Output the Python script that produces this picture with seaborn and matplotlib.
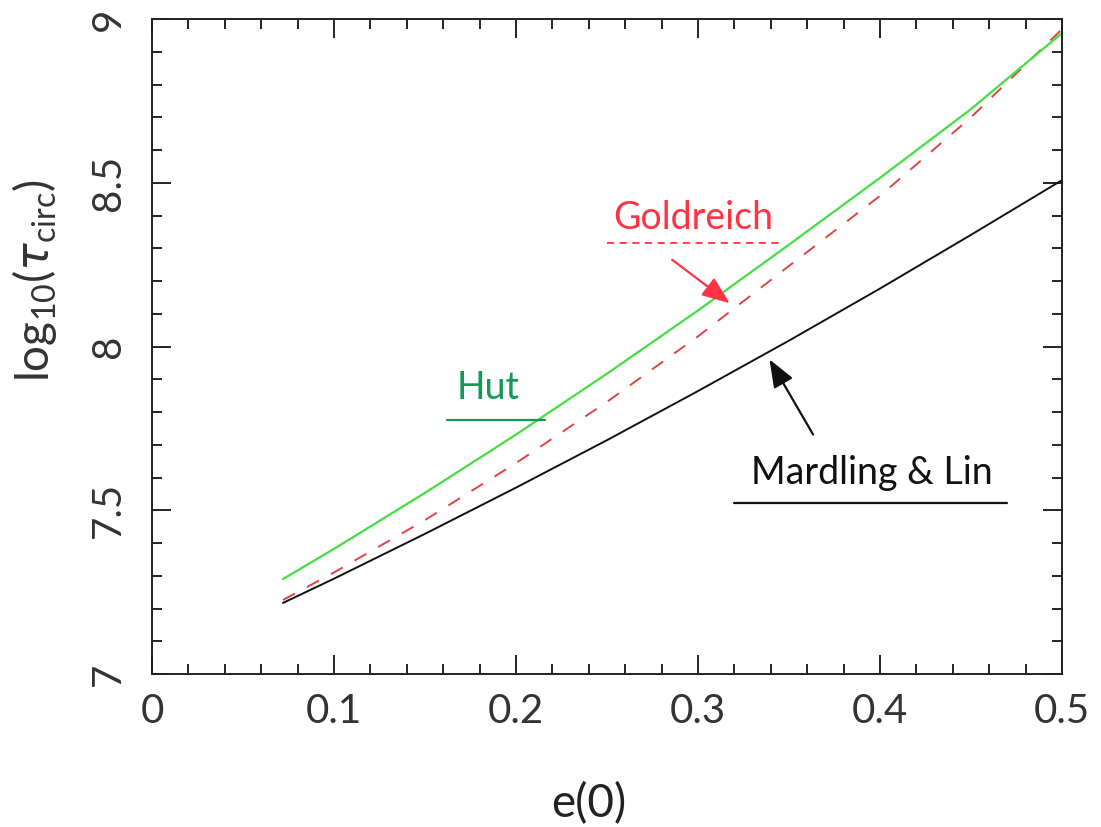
import numpy as np
import pandas as pd
import matplotlib
matplotlib.use("Agg")
import matplotlib.pyplot as plt
import seaborn as sns
from matplotlib.ticker import MultipleLocator

# values
ecc = [0.072, 0.10, 0.15, 0.20, 0.25, 0.30, 0.35, 0.40, 0.45, 0.50]
hut = [7.290, 7.382, 7.553, 7.731, 7.917, 8.110, 8.311, 8.515, 8.725, 8.957]
goldreich = [7.226, 7.310, 7.470, 7.644, 7.831, 8.031, 8.246, 8.460, 8.700, 8.969]
mardling_lin = [7.217, 7.291, 7.428, 7.569, 7.714, 7.864, 8.018, 8.177, 8.341, 8.508]

sns.set_style("ticks")
plt.rcParams['font.family'] = ['Lato', 'DejaVu Sans']
plt.rcParams['mathtext.fontset'] = 'dejavusans'

fig = plt.figure(figsize=(11.01, 8.27), dpi=100)
ax = fig.add_axes([0.138, 0.185, 0.8266, 0.792])

df = pd.DataFrame({'e': ecc, 'hut': hut, 'gold': goldreich, 'ml': mardling_lin})
sns.lineplot(data=df, x='e', y='ml', color='#111111', lw=1.4, ax=ax)
sns.lineplot(data=df, x='e', y='gold', color='#dd4444', lw=1.4, ax=ax,
             linestyle=(0, (7, 7)))
sns.lineplot(data=df, x='e', y='hut', color='#44dd44', lw=1.6, ax=ax)

ax.set_xlim(0, 0.5)
ax.set_ylim(7, 9)
ax.xaxis.set_major_locator(MultipleLocator(0.1))
ax.xaxis.set_minor_locator(MultipleLocator(0.02))
ax.yaxis.set_major_locator(MultipleLocator(0.5))
ax.yaxis.set_minor_locator(MultipleLocator(0.1))
ax.xaxis.set_major_formatter(plt.FuncFormatter(lambda v, p: '%g' % round(v, 2)))
ax.yaxis.set_major_formatter(plt.FuncFormatter(lambda v, p: '%g' % round(v, 2)))
ax.tick_params(which='both', direction='in', top=True, right=True,
               width=1.4, color='#222222')
ax.tick_params(which='major', length=14)
ax.tick_params(which='minor', length=7)
ax.tick_params(axis='x', which='major', labelsize=29, pad=14, labelcolor='#333333')
ax.tick_params(axis='y', which='major', labelsize=29, pad=18, labelcolor='#333333')
for lab in ax.get_yticklabels():
    lab.set_rotation(90)
    lab.set_va('center')
for s in ax.spines.values():
    s.set_linewidth(1.4)
    s.set_color('#222222')

ax.set_xlabel('e(0)', fontsize=33, color='#222222')
ax.xaxis.set_label_coords(0.48, -0.165)
ax.set_ylabel(r'$\mathregular{log_{10}(}\tau_{\mathregular{circ}}\mathregular{)}$',
              fontsize=33, color='#333333')
ax.yaxis.set_label_coords(-0.102, 0.6)

arrow = dict(arrowstyle='-|>,head_length=0.9,head_width=0.35', lw=1.6,
             mutation_scale=19)

# annotations
ax.text(0.2973, 8.392, 'Goldreich', color='#ff3344', fontsize=27, ha='center',
        va='center')
ax.plot([0.25, 0.347], [8.316, 8.316], color='#ff3344', lw=1.3, ls=(0, (4, 3)))
ax.annotate('', xy=(0.3187, 8.127), xytext=(0.2846, 8.270),
            arrowprops=dict(color='#ff3344', **arrow))

ax.text(0.1846, 7.873, 'Hut', color='#119955', fontsize=27, ha='center',
        va='center')
ax.plot([0.162, 0.216], [7.776, 7.776], color='#119955', lw=1.6)

ax.text(0.3956, 7.614, 'Mardling & Lin', color='#111111', fontsize=27,
        ha='center', va='center')
ax.plot([0.320, 0.470], [7.522, 7.522], color='#111111', lw=1.6)
ax.annotate('', xy=(0.3385, 7.968), xytext=(0.364, 7.724),
            arrowprops=dict(color='#111111', **arrow))

fig.savefig('out.png', dpi=100)
